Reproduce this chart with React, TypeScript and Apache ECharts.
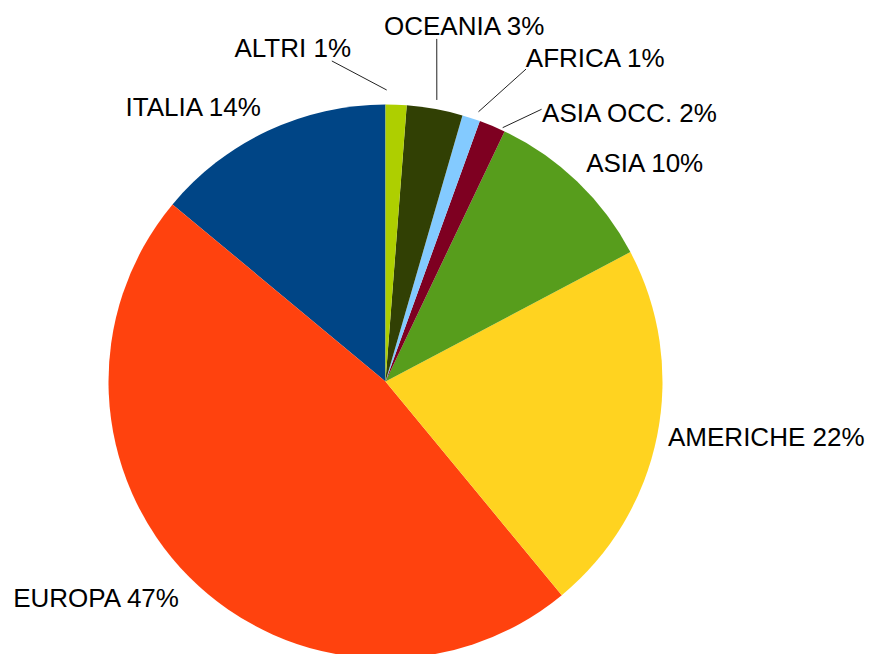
import React, { useEffect, useRef } from 'react';
import * as echarts from 'echarts';

// ---- data ----
const categories = ['ITALIA', 'EUROPA', 'AMERICHE', 'ASIA', 'ASIA OCC.', 'AFRICA', 'OCEANIA', 'ALTRI'];
const shares = [13.96, 47.02, 21.76, 10.19, 1.54, 1.05, 3.26, 1.22];
const colors = ['#004586', '#ff420e', '#ffd320', '#579d1c', '#7e0021', '#83caff', '#314004', '#aecf00'];

// ---- layout ----
const CENTER = [385.5, 381.5];
const RADIUS = 277;
// label anchor relative to slice mid-angle: gap beyond the rim (px), angular shift (deg)
const labelPlace: { dr: number; da: number; align: string }[] = [
  { dr: 24.4, da: -0.7, align: 'right' },
  { dr: 22.5, da: 1.5, align: 'right' },
  { dr: 11, da: 0.1, align: 'left' },
  { dr: 20, da: 1.3, align: 'left' },
  { dr: 33.5, da: -7.6, align: 'left' },
  { dr: 76, da: -5.4, align: 'left' },
  { dr: 78.5, da: 10.5, align: 'left' },
  { dr: 58, da: 8.1, align: 'right' },
];
// leader lines: [gap beyond rim, angular shift] for both ends
const leaderPlace: ({ from: number[]; to: number[] } | null)[] = [
  null, null, null, null,
  { from: [2.6, -2.1], to: [36.8, -7.15] },
  { from: [8.3, -1.0], to: [65.6, -6.2] },
  { from: [9.2, -0.07], to: [69.4, 1.75] },
  { from: [14.5, 1.96], to: [48, 11.7] },
];

const total = shares.reduce((a, b) => a + b, 0);
const midAngles = shares.map(
  (v, i) => 90 + (360 * (shares.slice(0, i).reduce((a, b) => a + b, 0) + v / 2)) / total
);
const polar = (r: number, deg: number) => [
  CENTER[0] + r * Math.cos((deg * Math.PI) / 180),
  CENTER[1] - r * Math.sin((deg * Math.PI) / 180),
];

export default function App() {
  const ref = useRef<HTMLDivElement>(null);
  useEffect(() => {
    if (!ref.current) return;
    const chart = echarts.init(ref.current, null, { renderer: 'svg' });
    chart.setOption({
      animation: false,
      backgroundColor: '#ffffff',
      series: [
        {
          type: 'pie',
          center: CENTER,
          radius: RADIUS,
          startAngle: 90,
          clockwise: false,
          avoidLabelOverlap: false,
          silent: true,
          data: categories.map((name, i) => ({
            name,
            value: shares[i],
            itemStyle: { color: colors[i] },
            labelLine: { show: leaderPlace[i] != null },
          })),
          itemStyle: { borderWidth: 0 },
          label: {
            show: true,
            position: 'outside',
            formatter: (p: any) => `${p.name} ${Math.round(p.percent)}%`,
            color: '#000',
            fontFamily: 'Liberation Sans',
            fontSize: 26,
          },
          labelLine: {
            show: false,
            length: 10,
            length2: 0,
            smooth: false,
            lineStyle: { color: '#222', width: 1 },
          },
          labelLayout: (params: any) => {
            const i = params.dataIndex;
            const p = labelPlace[i];
            const [x, y] = polar(RADIUS + p.dr, midAngles[i] + p.da);
            const out: any = { x, y, align: p.align, verticalAlign: 'middle' };
            const l = leaderPlace[i];
            if (l) {
              const a = polar(RADIUS + l.from[0], midAngles[i] + l.from[1]);
              const b = polar(RADIUS + l.to[0], midAngles[i] + l.to[1]);
              out.labelLinePoints = [a, b, b];
            }
            return out;
          },
          emphasis: { disabled: true },
        },
      ],
    });
    return () => chart.dispose();
  }, []);
  return (
    <div
      ref={ref}
      style={{ position: 'absolute', left: 0, top: 0, width: 869, height: 654 }}
    />
  );
}
